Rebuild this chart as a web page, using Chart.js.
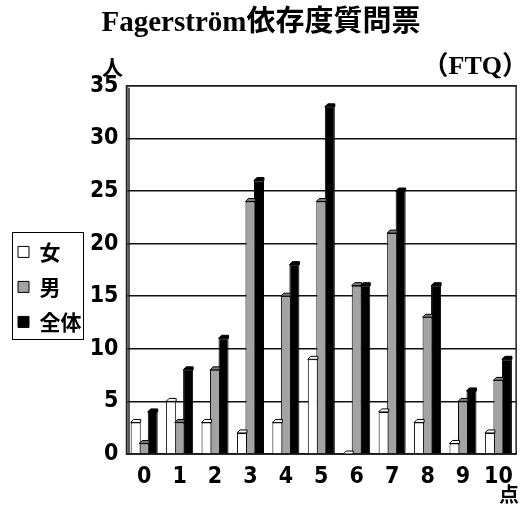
<!DOCTYPE html>
<html lang="ja">
<head>
<meta charset="UTF-8">
<title>Fagerström依存度質問票</title>
<script src="https://cdn.jsdelivr.net/npm/chart.js"></script>
<style>
  body { margin: 0; background: #fff; }
  #wrap { position: relative; width: 522px; height: 507px; }
  .note { position: absolute; color: #000; font-weight: bold; line-height: 1;
          font-family: "Noto Sans CJK JP", sans-serif; }
</style>
</head>
<body>
<div id="wrap">
  <canvas id="ftqChart" width="522" height="507"></canvas>
  <div class="note" style="left:102px; top:56px; font-size:21px;">人</div>
  <div class="note" style="right:-6px; top:53px; font-size:26px; font-family:'Liberation Serif','Noto Sans CJK JP',serif;">（FTQ）</div>
  <div class="note" style="left:499px; top:484px; font-size:20px;">点</div>
</div>
<script>
// FTQ score (0-10) and number of people
const scores = ['0', '1', '2', '3', '4', '5', '6', '7', '8', '9', '10'];
const female = [3, 5, 3, 2, 3, 9, 0, 4, 3, 1, 2];
const male   = [1, 3, 8, 24, 15, 24, 16, 21, 13, 5, 7];
const total  = [4, 8, 11, 26, 18, 33, 16, 25, 16, 6, 9];
const yTicks = [0, 5, 10, 15, 20, 25, 30, 35];

const tickFont = { family: '"DejaVu Sans Condensed", "Liberation Sans Narrow", "Liberation Sans", sans-serif', size: 23, weight: 'bold' };

// small slanted top on each bar, like the old 3D style
const barCaps = {
    id: 'barCaps',
    afterDatasetsDraw(chart) {
        const ctx = chart.ctx;
        chart.data.datasets.forEach((ds, i) => {
            chart.getDatasetMeta(i).data.forEach(bar => {
                const {x, y, width} = bar.getProps(['x', 'y', 'width'], true);
                const l = x - width / 2, r = x + width / 2, d = 3;
                ctx.save();
                ctx.beginPath();
                ctx.moveTo(l, y);
                ctx.lineTo(l + d, y - d);
                ctx.lineTo(r, y - d);
                ctx.lineTo(r, y);
                ctx.closePath();
                ctx.fillStyle = ds.capColor;
                ctx.fill();
                ctx.lineWidth = 1;
                ctx.strokeStyle = '#000';
                ctx.stroke();
                ctx.restore();
            });
        });
    }
};

// plot frame and legend box
const frames = {
    id: 'frames',
    beforeDatasetsDraw(chart) {
        const {ctx, chartArea: a} = chart;
        ctx.save();
        ctx.strokeStyle = '#222';
        ctx.lineWidth = 1.5;
        ctx.strokeRect(a.left, a.top, a.right - a.left, a.bottom - a.top);
        ctx.beginPath();
        ctx.moveTo(a.left + 2.5, a.top + 2);
        ctx.lineTo(a.left + 2.5, a.bottom);
        ctx.stroke();
        ctx.restore();
    },
    afterDraw(chart) {
        const boxes = chart.legend.legendHitBoxes;
        if (!boxes || !boxes.length) return;
        const ctx = chart.ctx;
        const l = Math.min(...boxes.map(b => b.left)) - 6;
        const t = Math.min(...boxes.map(b => b.top)) - 9;
        const r = Math.max(...boxes.map(b => b.left + b.width)) + 2;
        const btm = Math.max(...boxes.map(b => b.top + b.height)) + 7;
        ctx.save();
        ctx.strokeStyle = '#000';
        ctx.lineWidth = 1;
        ctx.strokeRect(Math.round(l) + 0.5, Math.round(t) + 0.5, Math.round(r - l), Math.round(btm - t));
        ctx.restore();
    }
};

Chart.defaults.color = '#000';

new Chart(document.getElementById('ftqChart'), {
    type: 'bar',
    data: {
        labels: scores,
        datasets: [
            { label: '女', data: female, backgroundColor: '#ffffff', capColor: '#ffffff', borderColor: '#000', borderWidth: 1 },
            { label: '男', data: male, backgroundColor: '#a3a3a3', capColor: '#7a7a7a', borderColor: '#000', borderWidth: 1 },
            { label: '全体', data: total, backgroundColor: '#000000', capColor: '#000000', borderColor: '#000', borderWidth: 1 }
        ]
    },
    options: {
        responsive: false,
        animation: false,
        layout: { padding: { left: 4, right: 4, top: 0, bottom: 0 } },
        datasets: { bar: { categoryPercentage: 0.72, barPercentage: 1.18 } },
        scales: {
            x: {
                grid: { display: false, drawTicks: false },
                border: { display: true, color: '#000', width: 1.5 },
                ticks: { font: tickFont, padding: 9, maxRotation: 0 },
                afterFit: s => { s.height = 53; }
            },
            y: {
                min: 0,
                max: 35,
                afterBuildTicks: s => { s.ticks = yTicks.map(v => ({ value: v })); },
                grid: { color: '#111', lineWidth: 1.5, drawTicks: false },
                border: { display: true, color: '#000', width: 1.5 },
                ticks: { font: tickFont, padding: 8 },
                afterFit: s => { s.width = 35; }
            }
        },
        plugins: {
            title: {
                display: true,
                text: 'Fagerström依存度質問票',
                font: { family: '"Liberation Serif", "Noto Sans CJK JP", serif', size: 29, weight: 'bold' },
                padding: { top: 6, bottom: 45 }
            },
            legend: {
                position: 'left',
                fullSize: false,
                title: { display: true, text: '', padding: 5, font: { size: 20 } },
                labels: {
                    boxWidth: 11,
                    boxHeight: 11,
                    padding: 14,
                    font: { family: '"Noto Sans CJK JP", sans-serif', size: 21, weight: 'bold' }
                }
            },
            tooltip: { enabled: false }
        }
    },
    plugins: [frames, barCaps]
});
</script>
</body>
</html>
